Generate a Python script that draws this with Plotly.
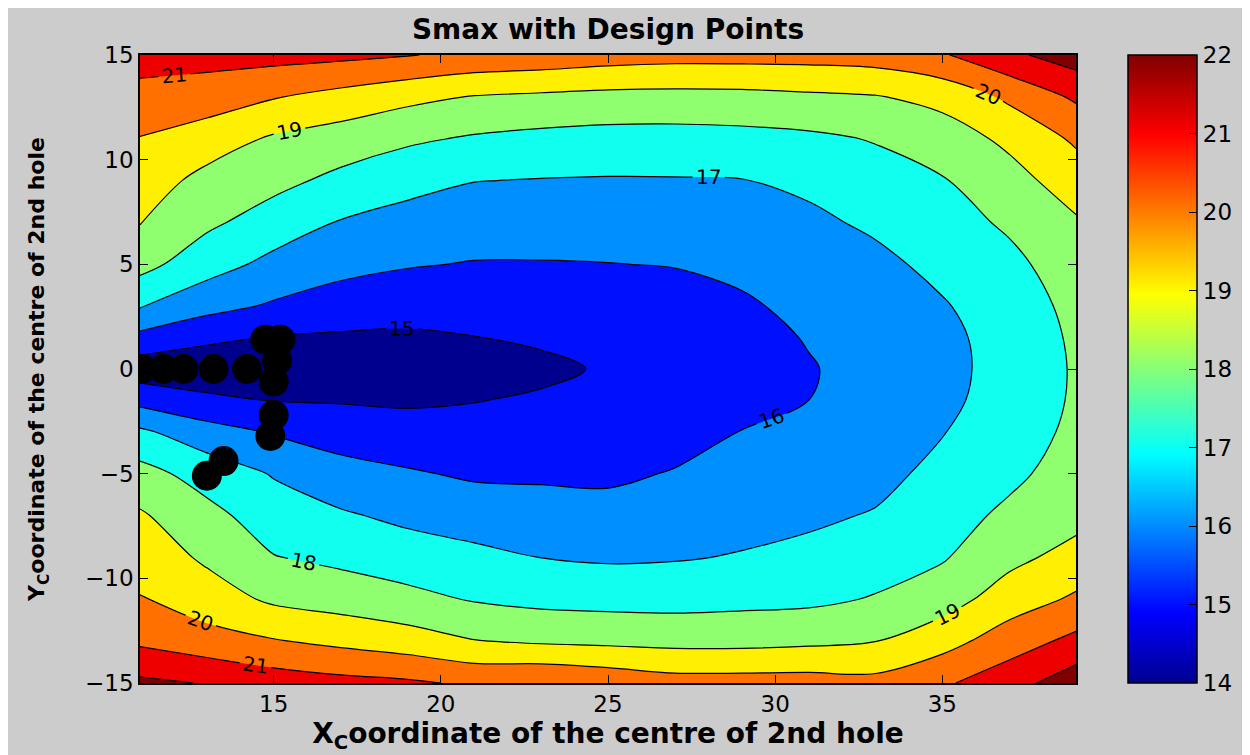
import numpy as np
import plotly.graph_objects as go

# Grid of the response surface
x_vals = [11, 13, 15, 17, 19, 21, 23, 25, 27, 29, 31, 33, 35, 37, 39]
y_vals = [15, 13, 11, 9, 7, 5, 3, 1.5, 0, -1.5, -3, -5, -7, -9, -11, -13, -15]

# Smax values, one list per x column (top y=15 down to y=-15)
smax_x11 = [21.4, 20.68, 19.96, 19.51, 19.04, 18.33, 17.08, 15.72, 14.45, 15.7, 17.17, 18.36, 19.12, 19.58, 20.05, 20.82, 22.2]
smax_x13 = [21.35, 20.51, 19.5, 18.70, 18.19, 17.41, 16.33, 15.21, 14.35, 15.21, 16.4, 17.59, 18.3, 18.84, 19.48, 20.39, 21.95]
smax_x15 = [21.34, 20.06, 18.87, 18.28, 17.54, 16.73, 15.88, 14.94, 14.3, 14.97, 15.91, 16.93, 17.49, 18.04, 18.83, 20.07, 21.53]
smax_x17 = [21.23, 19.67, 18.54, 17.75, 16.94, 16.31, 15.52, 14.88, 14.3, 14.93, 15.54, 16.38, 17.12, 17.77, 18.57, 19.76, 21.3]
smax_x19 = [21.05, 19.26, 18.16, 17.32, 16.64, 16.07, 15.37, 14.85, 14.35, 14.87, 15.38, 16.1, 16.78, 17.49, 18.27, 19.46, 21.15]
smax_x21 = [20.77, 18.95, 17.89, 17.02, 16.47, 15.95, 15.39, 14.98, 14.6, 14.97, 15.35, 15.87, 16.53, 17.25, 17.93, 19.04, 20.85]
smax_x23 = [20.65, 18.82, 17.73, 16.96, 16.45, 15.95, 15.48, 15.13, 14.8, 15.12, 15.43, 15.86, 16.39, 16.99, 17.73, 18.87, 20.95]
smax_x25 = [20.45, 18.71, 17.64, 16.93, 16.45, 15.98, 15.55, 15.25, 15.1, 15.2, 15.4, 15.82, 16.34, 16.88, 17.67, 18.79, 20.7]
smax_x27 = [20.35, 18.68, 17.63, 16.94, 16.48, 16.04, 15.60, 15.41, 15.35, 15.42, 15.62, 16.06, 16.49, 16.93, 17.65, 18.71, 20.4]
smax_x29 = [20.35, 18.71, 17.69, 16.97, 16.61, 16.25, 15.85, 15.65, 15.61, 15.73, 16.02, 16.36, 16.69, 17.06, 17.73, 18.71, 20.4]
smax_x31 = [20.36, 18.83, 17.81, 17.19, 16.81, 16.54, 16.27, 16.06, 15.93, 16.0, 16.23, 16.54, 16.83, 17.25, 17.79, 18.81, 20.4]
smax_x33 = [20.46, 18.94, 18.06, 17.6, 17.16, 16.77, 16.51, 16.39, 16.35, 16.38, 16.47, 16.71, 17.07, 17.56, 18.07, 18.98, 20.3]
smax_x35 = [20.9, 19.3, 18.51, 17.93, 17.59, 17.25, 16.92, 16.76, 16.72, 16.79, 16.96, 17.27, 17.59, 17.91, 18.55, 19.62, 20.85]
smax_x37 = [21.8, 20.19, 19.21, 18.64, 18.15, 17.75, 17.49, 17.38, 17.35, 17.39, 17.51, 17.78, 18.2, 18.73, 19.5, 20.51, 21.6]
smax_x39 = [22.48, 21.16, 20.16, 19.48, 18.89, 18.52, 18.26, 18.15, 18.1, 18.12, 18.21, 18.43, 18.67, 19.36, 20.15, 21.26, 22.58]

# Design points
design_x = [11.05, 11.7, 12.3, 13.2, 14.2, 14.75, 15.2, 15.1, 15.0, 15.0, 14.9, 13.5, 13.0]
design_y = [0, 0, 0, 0, 0, 1.4, 1.4, 0.4, -0.6, -2.2, -3.2, -4.4, -5.1]

# Colour bar ticks
cbar_ticks = [14, 15, 16, 17, 18, 19, 20, 21, 22]

columns = [smax_x11, smax_x13, smax_x15, smax_x17, smax_x19, smax_x21, smax_x23, smax_x25,
           smax_x27, smax_x29, smax_x31, smax_x33, smax_x35, smax_x37, smax_x39]
z = np.array(columns).T  # rows = y, cols = x

band_colors = [
    "rgb(0,0,143)",    # <14 (unused)
    "rgb(0,0,143)",    # 14-15
    "rgb(0,16,255)",   # 15-16
    "rgb(0,143,255)",  # 16-17
    "rgb(16,255,239)", # 17-18
    "rgb(143,255,112)",# 18-19
    "rgb(255,239,0)",  # 19-20
    "rgb(255,112,0)",  # 20-21
    "rgb(239,0,0)",    # 21-22
    "rgb(128,0,0)",    # >22
]
n = len(band_colors) - 1
band_scale = [[i / n, c] for i, c in enumerate(band_colors)]

jet = [
    [0.0, "rgb(0,0,143)"],
    [7 / 63, "rgb(0,0,255)"],
    [23 / 63, "rgb(0,255,255)"],
    [39 / 63, "rgb(255,255,0)"],
    [55 / 63, "rgb(255,0,0)"],
    [1.0, "rgb(128,0,0)"],
]

FONT = "DejaVu Sans"

fig = go.Figure()
fig.add_trace(go.Contour(
    x=x_vals, y=y_vals, z=z,
    colorscale=band_scale,
    showscale=False,
    contours=dict(start=14, end=22, size=1, coloring="fill", showlabels=True,
                  labelfont=dict(size=20, color="black", family=FONT)),
    line=dict(color="black", width=1.2),
    hoverinfo="skip",
))
fig.add_trace(go.Scatter(
    x=design_x, y=design_y, mode="markers",
    marker=dict(symbol="circle", size=30, color="black", line=dict(width=0)),
    hoverinfo="skip", showlegend=False,
))
# colour bar (continuous jet, as in the original)
fig.add_trace(go.Scatter(
    x=[25], y=[0], mode="markers",
    marker=dict(size=0.1, opacity=0, color=[18], colorscale=jet, cmin=14, cmax=22,
                showscale=True,
                colorbar=dict(
                    x=1.0556, xanchor="left", xref="paper",
                    y=0.5, yanchor="middle", len=1, lenmode="fraction",
                    thickness=69, thicknessmode="pixels",
                    xpad=0, ypad=0,
                    outlinecolor="black", outlinewidth=1.5,
                    tickvals=cbar_ticks, ticks="inside", ticklen=8, tickcolor="black",
                    tickfont=dict(size=23, color="black", family=FONT),
                )),
    hoverinfo="skip", showlegend=False,
))

fig.update_layout(
    width=1250, height=755,
    margin=dict(l=132, r=182, t=47, b=80),
    paper_bgcolor="#cccccc", plot_bgcolor="#cccccc",
    showlegend=False,
    title=dict(text="<b>Smax with Design Points</b>", x=0.5, xref="paper", xanchor="center",
               y=0.972, yanchor="middle", font=dict(size=28, color="black", family=FONT)),
)
fig.update_xaxes(
    range=[11, 39], tickvals=[15, 20, 25, 30, 35], ticks="inside", ticklen=8,
    tickcolor="black", showline=True, linecolor="black", linewidth=1.5, mirror="allticks",
    showgrid=False, zeroline=False,
    tickfont=dict(size=23, color="black", family=FONT),
    title=dict(text="<b>X<sub>C</sub>oordinate of the centre of 2nd hole</b>",
               font=dict(size=28, color="black", family=FONT), standoff=0),
)
fig.update_yaxes(
    range=[-15, 15], tickvals=[-15, -10, -5, 0, 5, 10, 15], ticks="inside", ticklen=8,
    tickcolor="black", showline=True, linecolor="black", linewidth=1.5, mirror="allticks",
    showgrid=False, zeroline=False,
    tickfont=dict(size=23, color="black", family=FONT),
    title=dict(text="<b>Y<sub>C</sub>oordinate of the centre of 2nd hole</b>",
               font=dict(size=22, color="black", family=FONT), standoff=34),
)

fig.write_html("out.html")
